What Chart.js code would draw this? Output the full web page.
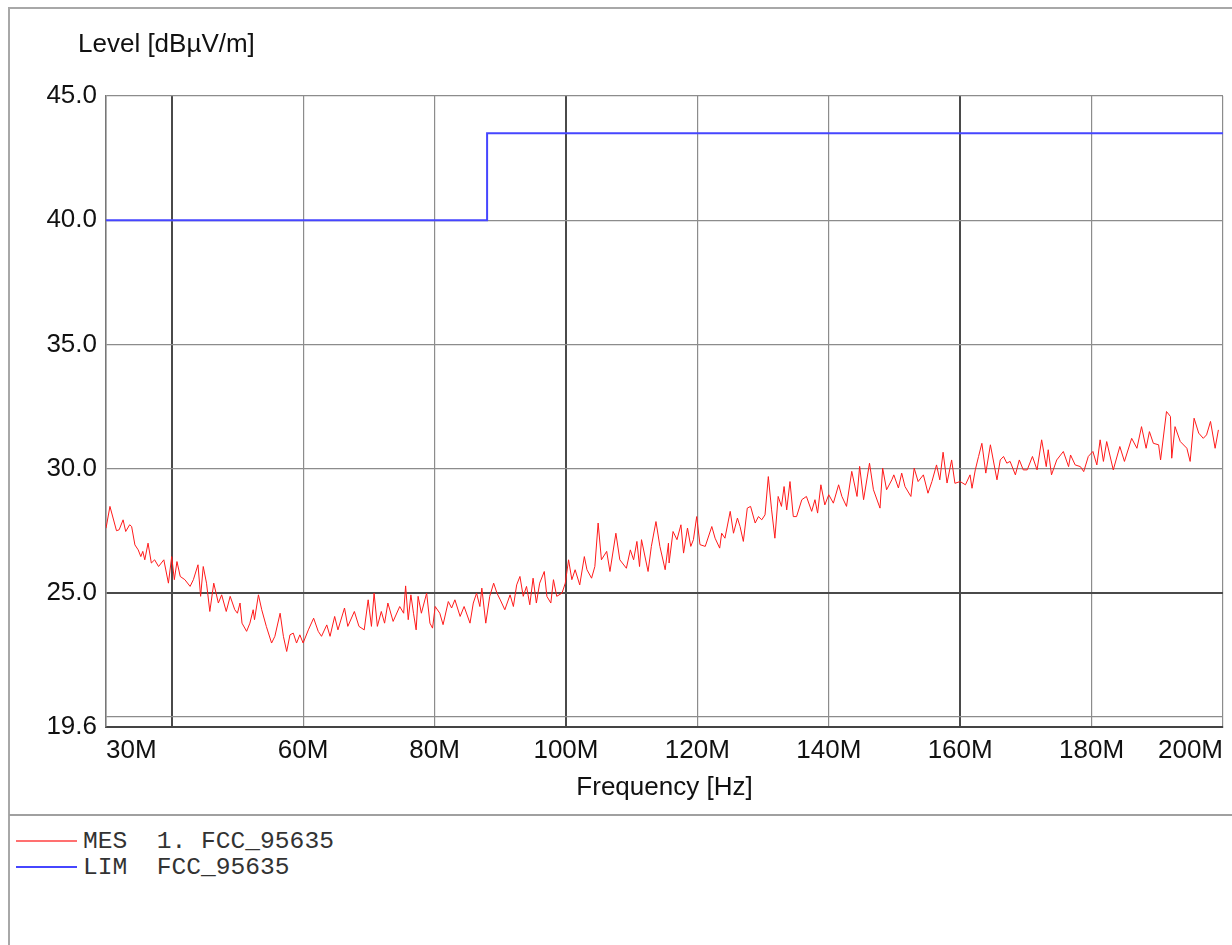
<!DOCTYPE html>
<html>
<head>
<meta charset="utf-8">
<title>Level vs Frequency</title>
<script src="https://cdn.jsdelivr.net/npm/chart.js@4.4.1/dist/chart.umd.min.js"></script>
<style>
body { margin:0; background:#fff; width:1232px; height:945px; overflow:hidden; position:relative; }
#frame { position:absolute; left:8px; top:7px; width:1300px; height:1000px; border-left:2px solid #a8a8a8; border-top:2px solid #a8a8a8; }
#plotBox { position:absolute; left:0; top:0; width:1232px; height:812px; }
#sep { position:absolute; left:9px; top:814px; width:1230px; border-top:2px solid #a0a0a0; }
#legend { position:absolute; left:16px; top:828px; font-family:"Liberation Mono","Courier New",monospace; font-size:24.6px; color:#333; }
.row { display:flex; align-items:center; height:26px; white-space:pre; }
.swatch { display:block; width:61px; margin-right:6px; }
</style>
</head>
<body>
<div id="frame"></div>
<div id="plotBox"><canvas id="levelChart"></canvas></div>
<div id="sep"></div>
<div id="legend"></div>
<script>
// measured trace, frequency in MHz, level in dBuV/m
const mesFreq = [
  30.0,30.6,31.6,32.0,32.6,33.0,33.6,33.9,34.4,34.9,35.3,35.6,35.9,36.4,36.9,37.4,38.0,38.8,39.5,40.0,
  40.4,40.8,41.3,42.0,42.8,43.3,44.0,44.4,44.8,45.3,45.8,46.4,47.1,47.6,48.3,48.9,49.6,50.0,50.4,50.7,
  51.4,51.9,52.4,52.6,53.2,53.7,54.4,55.2,55.7,56.5,57.0,57.5,58.0,58.5,59.0,59.5,60.0,60.8,61.6,62.3,
  62.8,63.6,64.1,64.8,65.3,66.3,66.8,67.8,68.5,69.3,69.9,70.4,70.8,71.3,71.9,72.4,72.9,73.7,74.7,75.3,
  75.6,76.0,76.4,76.8,77.2,77.5,78.0,78.8,79.3,79.7,80.1,80.8,81.3,82.1,82.6,83.1,83.9,84.5,85.4,85.9,
  86.4,86.9,87.2,87.8,88.4,89.0,89.5,90.0,90.7,91.5,92.0,92.5,93.0,93.5,94.0,94.5,95.0,95.5,96.0,96.7,
  97.1,97.7,98.1,98.6,99.4,99.9,100.4,100.9,101.4,102.1,102.8,103.2,103.9,104.4,104.9,105.4,106.2,106.7,107.6,108.2,
  109.2,109.8,110.3,110.8,111.2,111.5,112.5,113.0,113.7,114.3,115.1,115.6,115.7,116.3,116.9,117.5,117.9,118.5,119.0,119.4,
  119.9,120.4,121.2,122.2,122.7,123.4,123.7,124.2,125.0,125.5,126.1,126.5,127.0,127.6,128.1,128.8,129.3,129.8,130.3,130.8,
  131.3,131.8,132.3,132.8,133.2,133.6,134.1,134.6,135.1,135.9,136.6,137.4,137.9,138.3,138.8,139.4,140.0,140.7,141.5,142.0,
  142.7,143.5,144.3,144.7,145.3,146.2,146.8,147.8,148.2,148.8,149.6,149.9,150.6,151.1,151.6,152.5,153.0,153.6,154.4,155.1,
  155.7,156.4,156.9,157.4,158.0,158.7,159.2,160.0,160.8,161.5,161.8,162.3,162.8,163.3,163.9,164.6,165.6,166.1,166.6,167.1,
  167.6,168.4,169.0,169.6,170.2,171.0,171.7,172.4,173.1,173.4,173.9,174.7,175.7,176.5,176.8,177.5,178.3,178.8,179.5,180.2,
  180.8,181.3,181.8,182.3,183.3,184.3,185.0,186.1,186.9,187.6,188.3,188.8,189.4,190.2,190.5,191.4,192.0,192.2,192.7,193.5,
  194.5,195.0,195.6,196.3,197.0,197.5,198.1,198.8,199.3
];
const mesLevel = [
  27.60,28.48,27.50,27.54,27.94,27.47,27.74,27.67,26.93,26.73,26.46,26.67,26.33,27.00,26.20,26.33,26.06,26.33,25.39,26.46,
  25.53,26.26,25.66,25.53,25.26,25.53,26.13,24.86,26.06,25.39,24.25,25.39,24.59,24.92,24.25,24.86,24.32,24.18,24.59,23.78,
  23.45,23.78,24.32,23.92,24.92,24.32,23.65,22.98,23.25,24.18,23.25,22.64,23.31,23.38,22.98,23.31,22.98,23.51,23.98,23.45,
  23.25,23.71,23.25,24.05,23.51,24.39,23.65,24.25,23.65,23.51,24.72,23.65,24.99,23.65,24.25,23.78,24.59,23.85,24.45,24.18,
  25.28,23.92,24.92,24.18,23.51,24.86,24.18,24.99,23.78,23.58,24.45,24.18,23.72,24.65,24.39,24.72,24.05,24.45,23.78,24.59,
  24.99,24.45,25.19,23.78,24.86,25.39,24.99,24.72,24.32,24.92,24.45,25.32,25.66,24.86,25.26,24.52,25.59,24.59,25.39,25.86,
  24.86,24.59,25.53,24.86,24.99,25.39,26.33,25.53,25.93,25.32,26.46,25.93,25.59,26.06,27.81,26.33,26.67,25.86,27.40,26.33,
  25.99,26.73,26.33,27.07,26.06,27.14,25.86,26.87,27.87,26.87,25.93,27.00,26.20,27.47,27.14,27.74,26.60,27.61,26.87,27.14,
  28.07,26.94,26.87,27.67,27.20,26.80,27.40,27.20,28.28,27.40,28.01,27.67,27.07,28.41,28.48,27.81,28.07,27.94,28.14,29.68,
  28.34,27.20,28.88,28.48,29.28,28.34,29.48,28.07,28.07,28.75,28.88,28.28,28.75,28.21,29.35,28.54,28.95,28.61,29.35,28.88,
  28.48,29.89,28.88,30.09,28.75,30.22,29.15,28.41,30.02,29.15,29.55,29.75,29.22,29.82,29.28,28.88,30.02,29.48,29.75,29.01,
  29.48,30.15,29.55,30.66,29.42,30.35,29.41,29.48,29.35,29.75,29.21,29.95,30.49,31.02,29.82,30.96,29.55,30.35,30.49,30.22,
  30.29,29.75,30.35,29.95,29.95,30.49,29.95,31.16,30.08,30.76,29.75,30.35,30.69,30.08,30.55,30.15,30.08,29.88,30.49,30.69,
  30.15,31.16,30.29,31.09,29.95,30.89,30.29,31.22,30.82,31.69,30.82,31.49,31.02,30.96,30.35,32.30,32.10,30.42,31.69,31.09,
  30.82,30.29,32.03,31.43,31.22,31.36,31.90,30.82,31.56
];
// limit line
const limFreq = [30, 88, 88, 200];
const limLevel = [40.0, 40.0, 43.5, 43.5];

const X_TICKS = [30, 40, 60, 80, 100, 120, 140, 160, 180, 200];
const X_THICK = [40, 100, 160];
const Y_TICKS = [19.6, 20, 25, 30, 35, 40, 45];
const Y_THICK = [25];
const Y_TITLE = 'Level [dBµV/m]';
const X_TITLE = 'Frequency [Hz]';
const LABELS = ['MES  1. FCC_95635', 'LIM  FCC_95635'];

const FONT = '"Liberation Sans", Arial, sans-serif';

function toPoints(xs, ys) {
  let pts = [];
  for (let i = 0; i < xs.length; i++) pts.push({x: xs[i], y: ys[i]});
  return pts;
}

function gridColor(thick) {
  return function(c) {
    if (!c.tick) return '#8c8c8c';
    return thick.includes(c.tick.value) ? '#4a4a4a' : '#8c8c8c';
  };
}
function gridWidth(thick) {
  return function(c) {
    if (!c.tick) return 1.2;
    return thick.includes(c.tick.value) ? 2 : 1.2;
  };
}

const levelTitle = {
  id: 'levelTitle',
  afterDraw(chart) {
    const ctx = chart.ctx;
    ctx.save();
    ctx.font = '26px ' + FONT;
    ctx.fillStyle = '#111';
    ctx.textBaseline = 'middle';
    ctx.textAlign = 'left';
    ctx.fillText(Y_TITLE, chart.chartArea.left - 28, 45);
    ctx.restore();
  }
};

var chart = document.getElementById('levelChart').getContext('2d');
var myChart = new Chart(chart, {
  type: 'line',
  data: {
    datasets: [{
      label: LABELS[0],
      data: toPoints(mesFreq, mesLevel),
      borderColor: '#ff1a1a',
      borderWidth: 1,
      pointRadius: 0,
      tension: 0
    },
    {
      label: LABELS[1],
      data: toPoints(limFreq, limLevel),
      borderColor: '#4646ff',
      borderWidth: 2,
      pointRadius: 0,
      tension: 0
    }]
  },
  options: {
    responsive: true,
    maintainAspectRatio: false,
    animation: false,
    layout: { padding: { left: 0, top: 96, right: 9, bottom: 0 } },
    plugins: {
      legend: { display: false },
      tooltip: { enabled: false }
    },
    scales: {
      x: {
        type: 'linear',
        min: 30,
        max: 200,
        afterBuildTicks: function(scale) { scale.ticks = X_TICKS.map(v => ({value: v})); },
        afterFit: function(scale) { scale.height = 85; },
        grid: { color: gridColor(X_THICK), lineWidth: gridWidth(X_THICK), drawTicks: false },
        border: { color: '#444', width: 2 },
        ticks: {
          autoSkip: false,
          maxRotation: 0,
          align: 'inner',
          padding: 8,
          color: '#111',
          font: { family: FONT, size: 26 },
          callback: function(v) { return v === 40 ? '' : v + 'M'; }
        },
        title: {
          display: true,
          text: X_TITLE,
          color: '#111',
          font: { family: FONT, size: 26 },
          padding: { top: 0, bottom: 9 }
        }
      },
      y: {
        type: 'linear',
        min: 19.6,
        max: 45,
        afterBuildTicks: function(scale) { scale.ticks = Y_TICKS.map(v => ({value: v})); },
        afterFit: function(scale) { scale.width = 106; },
        grid: { color: gridColor(Y_THICK), lineWidth: gridWidth(Y_THICK), drawTicks: false },
        border: { color: '#777', width: 1.5 },
        ticks: {
          padding: 9,
          color: '#111',
          font: { family: FONT, size: 26 },
          callback: function(v) { return v === 20 ? '' : v.toFixed(1); }
        }
      }
    }
  },
  plugins: [levelTitle]
});

// legend rows below the separator, built from the datasets
let legendBox = document.getElementById('legend');
let legendHtml = '';
for (let i = 0; i < myChart.data.datasets.length; i++) {
  let ds = myChart.data.datasets[i];
  let swatchColor = i === 0 ? '#ff7070' : ds.borderColor;
  legendHtml += '<div class="row"><span class="swatch" style="height:' + (ds.borderWidth + 0.5) + 'px;background:' + swatchColor + '"></span>' + ds.label + '</div>';
}
legendBox.innerHTML = legendHtml;
</script>
</body>
</html>
